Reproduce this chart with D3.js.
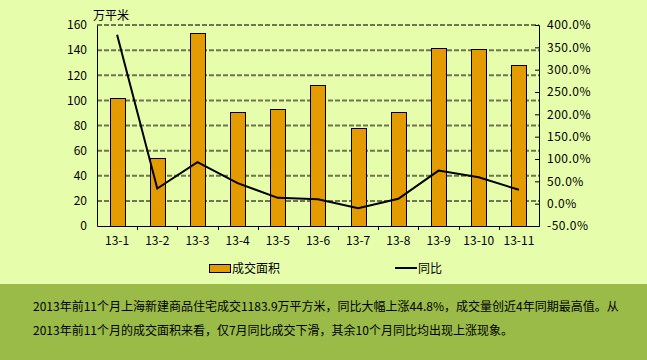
<!DOCTYPE html>
<html>
<head>
<meta charset="utf-8">
<script src="https://cdnjs.cloudflare.com/ajax/libs/d3/7.8.5/d3.min.js"></script>
<style>
  body { margin: 0; background: #e6fdab; }
  svg text { font-family: "Noto Sans CJK SC", "DejaVu Sans", sans-serif; }
</style>
</head>
<body>
<script>
// data
let months = ['13-1', '13-2', '13-3', '13-4', '13-5', '13-6', '13-7', '13-8', '13-9', '13-10', '13-11']
let area = [101.5, 54, 154, 90.5, 93, 112, 78, 90.5, 141.5, 140.5, 128.5]
let yoy = [378, 34, 93, 46, 13, 10, -10, 11, 74, 59, 31]
let leftTicks = [0, 20, 40, 60, 80, 100, 120, 140, 160]
let rightTicks = [-50, 0, 50, 100, 150, 200, 250, 300, 350, 400]

let width = 647
let height = 360
let plot = { left: 97, right: 539, top: 25, bottom: 226 }

let svg = d3.select('body')
  .append('svg')
  .attr('width', width)
  .attr('height', height)

svg.append('rect')
  .attr('width', width)
  .attr('height', height)
  .attr('fill', '#e6fdab')

let x = d3.scaleBand()
  .domain(months)
  .range([plot.left, plot.right])
  .paddingInner(0)
  .paddingOuter(0)

let y = d3.scaleLinear()
  .domain([0, 160])
  .range([plot.bottom, plot.top])

let y2 = d3.scaleLinear()
  .domain([-50, 400])
  .range([plot.bottom, plot.top])

// dashed gridlines
svg.append('g')
  .selectAll('line')
  .data(leftTicks.filter(d => d > 0))
  .join('line')
  .attr('x1', plot.left)
  .attr('x2', plot.right)
  .attr('y1', d => y(d))
  .attr('y2', d => y(d))
  .attr('stroke', '#6e7550')
  .attr('stroke-width', 2)
  .attr('stroke-dasharray', '5,2')

// bars
let bw = 15
svg.append('g')
  .selectAll('rect')
  .data(area)
  .join('rect')
  .attr('x', (d, i) => Math.round(x(months[i]) + x.bandwidth() / 2 - bw / 2) + 0.5)
  .attr('y', d => Math.round(y(d)) + 0.5)
  .attr('width', bw)
  .attr('height', d => Math.round(plot.bottom - y(d)))
  .attr('fill', '#e39b00')
  .attr('stroke', '#000')
  .attr('stroke-width', 1)

// left axis
let leftAxis = d3.axisLeft(y).tickValues(leftTicks).tickSize(0).tickPadding(10)
let gl = svg.append('g')
  .attr('transform', `translate(${plot.left},0)`)
  .call(leftAxis)
gl.select('.domain').attr('stroke', '#000')
gl.selectAll('text').attr('font-size', 12).attr('fill', '#000')

// right axis
let rightAxis = d3.axisRight(y2).tickValues(rightTicks).tickSize(-4).tickPadding(8)
  .tickFormat(d => d.toFixed(1) + '%')
let gr = svg.append('g')
  .attr('transform', `translate(${plot.right},0)`)
  .call(rightAxis)
gr.select('.domain').attr('stroke', '#000')
gr.selectAll('line').attr('stroke', '#000')
gr.selectAll('text').attr('font-size', 12).attr('fill', '#000').attr('letter-spacing', 0.5)

// bottom axis
let xAxis = d3.axisBottom(x).tickSize(0).tickPadding(10)
let gx = svg.append('g')
  .attr('transform', `translate(0,${plot.bottom})`)
  .call(xAxis)
gx.select('.domain').attr('stroke', '#000')
gx.selectAll('text').attr('font-size', 12).attr('fill', '#000')
// tick marks at band boundaries
svg.append('g')
  .selectAll('line')
  .data(months.slice(1))
  .join('line')
  .attr('x1', d => Math.round(x(d)) + 0.5)
  .attr('x2', d => Math.round(x(d)) + 0.5)
  .attr('y1', plot.bottom)
  .attr('y2', plot.bottom + 4)
  .attr('stroke', '#000')

// unit label
svg.append('text')
  .attr('x', 93)
  .attr('y', 20)
  .attr('font-size', 12)
  .text('万平米')

// yoy line
let line = d3.line()
  .x((d, i) => x(months[i]) + x.bandwidth() / 2)
  .y(d => y2(d))
svg.append('path')
  .datum(yoy)
  .attr('d', line)
  .attr('fill', 'none')
  .attr('stroke', '#000')
  .attr('stroke-width', 2)

// legend
svg.append('rect')
  .attr('x', 209.5)
  .attr('y', 264.5)
  .attr('width', 21)
  .attr('height', 8)
  .attr('fill', '#e39b00')
  .attr('stroke', '#000')
svg.append('text')
  .attr('x', 232)
  .attr('y', 273)
  .attr('font-size', 12)
  .text('成交面积')
svg.append('line')
  .attr('x1', 395)
  .attr('x2', 417)
  .attr('y1', 268)
  .attr('y2', 268)
  .attr('stroke', '#000')
  .attr('stroke-width', 2)
svg.append('text')
  .attr('x', 418)
  .attr('y', 273)
  .attr('font-size', 12)
  .text('同比')

// bottom note band
svg.append('rect')
  .attr('x', 0)
  .attr('y', 284)
  .attr('width', width)
  .attr('height', height - 284)
  .attr('fill', '#9abb48')

let note = [
  '2013年前11个月上海新建商品住宅成交1183.9万平方米，同比大幅上涨44.8%，成交量创近4年同期最高值。从',
  '2013年前11个月的成交面积来看，仅7月同比成交下滑，其余10个月同比均出现上涨现象。'
]
svg.append('g')
  .selectAll('text')
  .data(note)
  .join('text')
  .attr('x', 33)
  .attr('y', (d, i) => 311 + i * 24)
  .attr('font-size', 12)
  .attr('fill', '#000')
  .text(d => d)
</script>
</body>
</html>
